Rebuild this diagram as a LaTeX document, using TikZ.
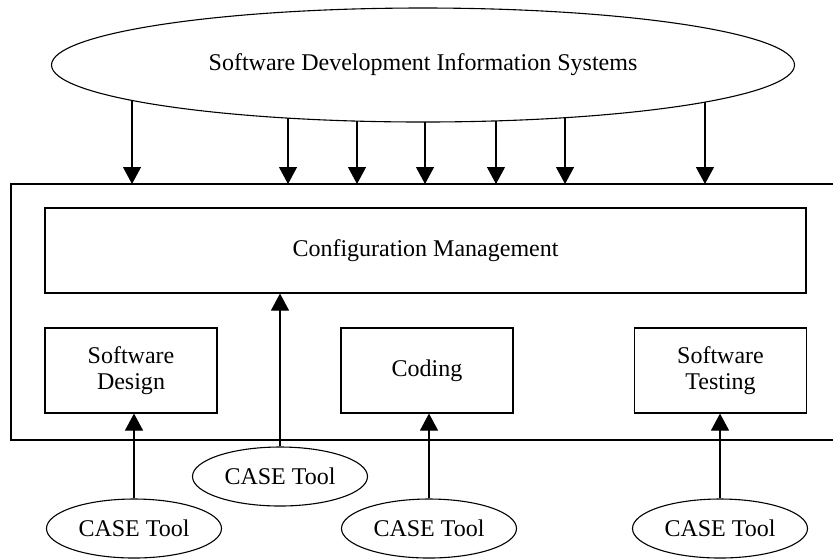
\documentclass[tikz,border=0pt]{standalone}
\usepackage{fontspec}
\setmainfont{Liberation Serif}
\usetikzlibrary{shapes.geometric}
\usetikzlibrary{arrows.meta}
\usetikzlibrary{intersections}

\tikzset{
	box/.style={draw, rectangle, line width=0.55pt, align=center, inner sep=0pt},
	tool/.style={draw, ellipse, line width=0.55pt, inner sep=0pt, minimum width=87.5pt, minimum height=29.5pt},
	arr/.style={line width=0.55pt, -{Triangle[length=8.5pt, width=9pt]}}
}

\begin{document}
\begin{tikzpicture}[x=0.5pt, y=-0.5pt, font=\fontsize{12}{13}\selectfont]
		\useasboundingbox (0,0) rectangle (833,559);
		% information systems on top
		\node[draw, ellipse, line width=0.55pt, inner sep=0pt, minimum width=371.5pt, minimum height=57pt, name path=sdis] (sdis) at (423,65) {Software Development Information Systems};
		% outer frame, runs off the right edge
		\draw[line width=0.55pt] (11,184) rectangle (845,440);
		\coordinate (frametop) at (0,184);
		\foreach \x [count=\i] in {132, 288, 357, 425, 496, 565, 705} {
			\path[name path=v\i] (\x,65) -- (\x,184);
			\draw[arr, name intersections={of=sdis and v\i, by=s\i}] (s\i) -- (s\i |- frametop);
		}
		% boxes
		\node[box, minimum width=380.5pt, minimum height=42.5pt] (cfg) at (425.5,250.5) {Configuration Management};
		\node[box, minimum width=86pt, minimum height=42.5pt] (design) at (131,370.5) {Software\\Design};
		\node[box, minimum width=86pt, minimum height=42.5pt] (coding) at (427,370.5) {Coding};
		\node[box, minimum width=86pt, minimum height=42.5pt] (testing) at (720.5,370.5) {Software\\Testing};
		% case tools
		\node[tool] (ctcfg) at (280,476.5) {CASE Tool};
		\node[tool] (ctdesign) at (134,528.5) {CASE Tool};
		\node[tool] (ctcoding) at (429,528.5) {CASE Tool};
		\node[tool] (cttesting) at (720,528.5) {CASE Tool};
		\draw[arr] (ctcfg.north) -- (ctcfg.north |- cfg.south);
		\draw[arr] (ctdesign.north) -- (ctdesign.north |- design.south);
		\draw[arr] (ctcoding.north) -- (ctcoding.north |- coding.south);
		\draw[arr] (cttesting.north) -- (cttesting.north |- testing.south);
	\end{tikzpicture}
\end{document}
